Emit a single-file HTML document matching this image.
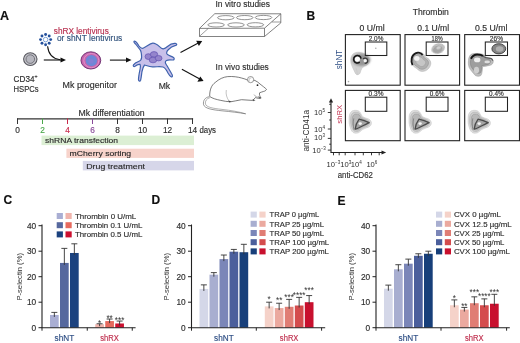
<!DOCTYPE html>
<html><head><meta charset="utf-8"><title>Figure</title>
<style>
html,body{margin:0;padding:0;background:#fff;}
body{width:520px;height:343px;overflow:hidden;}
svg{display:block;}
text{font-family:"Liberation Sans","DejaVu Sans",sans-serif;}
</style></head>
<body>
<svg width="520" height="343" viewBox="0 0 520 343">
<rect width="520" height="343" fill="#fff"/>
<defs><filter id="b20" x="-50%" y="-50%" width="200%" height="200%"><feGaussianBlur stdDeviation="2.0"/></filter><filter id="b14" x="-50%" y="-50%" width="200%" height="200%"><feGaussianBlur stdDeviation="1.4"/></filter><filter id="b09" x="-50%" y="-50%" width="200%" height="200%"><feGaussianBlur stdDeviation="0.9"/></filter><filter id="b05" x="-50%" y="-50%" width="200%" height="200%"><feGaussianBlur stdDeviation="0.5"/></filter><filter id="b03" x="-50%" y="-50%" width="200%" height="200%"><feGaussianBlur stdDeviation="0.3"/></filter></defs>
<text x="0" y="19.8" font-size="12.5" fill="#111" stroke="#111" stroke-width="0.15" font-weight="bold">A</text>
<text x="306.5" y="19.5" font-size="12" fill="#111" stroke="#111" stroke-width="0.15" font-weight="bold">B</text>
<text x="3.4" y="204.3" font-size="12" fill="#111" stroke="#111" stroke-width="0.15" font-weight="bold">C</text>
<text x="151.5" y="204.3" font-size="12" fill="#111" stroke="#111" stroke-width="0.15" font-weight="bold">D</text>
<text x="337.6" y="204.5" font-size="12" fill="#111" stroke="#111" stroke-width="0.15" font-weight="bold">E</text>
<text x="53.8" y="33.5" font-size="8.3" fill="#b8304f" stroke="#b8304f" stroke-width="0.15" textLength="55" lengthAdjust="spacingAndGlyphs">shRX lentivirus</text>
<text x="56.9" y="41.3" font-size="8.3" fill="#34557e" stroke="#34557e" stroke-width="0.15" textLength="65.4" lengthAdjust="spacingAndGlyphs">or shNT lentivirus</text>
<circle cx="45.6" cy="39.6" r="2.3" fill="#fff" stroke="#6f98d4" stroke-width="0.9"/>
<circle cx="50.70" cy="39.60" r="1.45" fill="#24509c"/>
<circle cx="49.21" cy="43.21" r="1.45" fill="#24509c"/>
<circle cx="45.60" cy="44.70" r="1.45" fill="#24509c"/>
<circle cx="41.99" cy="43.21" r="1.45" fill="#24509c"/>
<circle cx="40.50" cy="39.60" r="1.45" fill="#24509c"/>
<circle cx="41.99" cy="35.99" r="1.45" fill="#24509c"/>
<circle cx="45.60" cy="34.50" r="1.45" fill="#24509c"/>
<circle cx="49.21" cy="35.99" r="1.45" fill="#24509c"/>
<ellipse cx="30.3" cy="59.1" rx="6.7" ry="6.4" fill="#c4c4ca" stroke="#595960" stroke-width="1.1"/>
<circle cx="30.3" cy="59.1" r="4.3" fill="#b6b6be" stroke="#6c6c74" stroke-width="0.9"/>
<text x="13.6" y="81.8" font-size="8.2" fill="#2e2e2e" stroke="#2e2e2e" stroke-width="0.15">CD34<tspan font-size='5.2' dy='-3.4'>+</tspan></text>
<text x="13.6" y="91.8" font-size="8.2" fill="#2e2e2e" stroke="#2e2e2e" stroke-width="0.15" textLength="25.1" lengthAdjust="spacingAndGlyphs">HSPCs</text>
<line x1="43.8" y1="60" x2="61.5" y2="60" stroke="#111" stroke-width="1.1"/>
<path d="M66,60 L60.5,57.5 L60.5,62.5 Z" fill="#111"/>
<path d="M47.6,46.3 C48.3,53 51,58.6 60,59.7" fill="none" stroke="#111" stroke-width="1.1"/>
<ellipse cx="90.85" cy="60.4" rx="9.9" ry="8.6" fill="#c865ae" stroke="#66296a" stroke-width="0.9"/>
<ellipse cx="91.3" cy="60.6" rx="7.5" ry="7.1" fill="none" stroke="#eaa5d4" stroke-width="0.7"/>
<ellipse cx="91.4" cy="60.6" rx="5.8" ry="5.6" fill="#6e87d6"/>
<ellipse cx="91.0" cy="61.2" rx="2.6" ry="2.4" fill="#8a7ed4" opacity="0.7"/>
<text x="62.6" y="88.1" font-size="8.6" fill="#2e2e2e" stroke="#2e2e2e" stroke-width="0.15" textLength="54.3" lengthAdjust="spacingAndGlyphs">Mk progenitor</text>
<line x1="109.9" y1="60.1" x2="126.5" y2="60.1" stroke="#111" stroke-width="1.1"/>
<path d="M131.5,60.1 L126,57.6 L126,62.6 Z" fill="#111"/>
<path d="M134.2,41.2 C135.5,40.3 137.5,43.5 139,46 C140,47.5 141.5,48.8 143,48.3 C146.5,47 149.5,43.6 152.8,43.2 C156,43 158.5,46 161.5,48.3 C163.5,49.5 165.5,48.5 167.5,46.5 C169.5,44.7 172.5,43.2 175.2,43.4 C177.5,43.8 177,45.3 175,45.7 C172.5,46.3 170.5,47.5 168.5,49.5 C166.5,51.5 166,53.3 167.5,54.6 C169.5,55.8 172,56.5 173.5,57.5 C174.8,58.5 174.2,60.2 172.5,60 C170.5,59.8 168,59.6 166.5,60.5 C165,61.5 165,63 166.2,64.5 C167.8,67 169.8,70.5 171.5,73.5 C172.8,75.5 172.8,77 171.2,76.8 C169.8,76.5 169,74.8 168,73 C166.5,70 164.8,67.5 163,67 C160,66.3 156.5,67 152.5,66.8 C149.5,66.6 146.5,65.5 144.5,65 C143.2,66.5 142.6,69 142,71.5 C141.5,74.5 141.3,78 140.6,80.2 C140.1,81.5 138.6,81.3 138.5,79.8 C138.4,76.5 139.5,72 140.2,68.5 C140.5,67 140.6,65.5 140,64.4 C138.5,64 136.5,65 135,66.2 C133.8,67 132.8,66 133.5,64.8 C134.5,63.3 136.5,62.2 138.5,61.5 C140.5,60.8 141.6,59.5 141.6,57.5 C141.6,54.5 141.3,51.5 140.2,49.8 C139,48.5 137.5,46.5 136,44.5 C135,43.2 133.2,42.2 134.2,41.2 Z" fill="#c8c0ea" stroke="#3f62ad" stroke-width="1.2" stroke-linejoin="round"/>
<ellipse cx="148.4" cy="56.6" rx="3.4" ry="2.9" fill="#9484cc" stroke="#6252b0" stroke-width="0.7"/>
<ellipse cx="154.0" cy="54.4" rx="3.7" ry="2.8" fill="#9484cc" stroke="#6252b0" stroke-width="0.7"/>
<ellipse cx="153.0" cy="60.0" rx="3.8" ry="2.8" fill="#9484cc" stroke="#6252b0" stroke-width="0.7"/>
<ellipse cx="158.6" cy="58.2" rx="3.4" ry="2.7" fill="#9484cc" stroke="#6252b0" stroke-width="0.7"/>
<text x="158.7" y="89.0" font-size="8.6" fill="#2e2e2e" stroke="#2e2e2e" stroke-width="0.15">Mk</text>
<line x1="180.5" y1="52.4" x2="198.3" y2="43.1" stroke="#111" stroke-width="1.1"/>
<path d="M202.2,41.1 L196.2,40.8 L198.9,46.1 Z" fill="#111"/>
<line x1="181.9" y1="69.3" x2="199.8" y2="79.1" stroke="#111" stroke-width="1.1"/>
<path d="M203.6,81.1 L197.4,81.7 L200.3,76.5 Z" fill="#111"/>
<text x="215.5" y="7.0" font-size="8.4" fill="#2e2e2e" stroke="#2e2e2e" stroke-width="0.15" textLength="54.4" lengthAdjust="spacingAndGlyphs">In vitro studies</text>
<g fill="none" stroke="#5a5a5a" stroke-width="0.75" stroke-linejoin="round"><path d="M214.8,13.7 L280.8,13.8 L264.5,28.2 L199.5,28.4 Z"/><path d="M199.5,28.4 L199.5,36.5 L264.5,36.5 L264.5,28.2"/><path d="M280.8,13.8 L280.8,22.9 L264.5,36.5"/><path d="M271.9,22 L280.8,22" stroke-width="0.6"/><path d="M199.5,36.3 L208.3,28.4" stroke-width="0.6"/></g>
<ellipse cx="225.8" cy="17.7" rx="8.3" ry="2.1" fill="none" stroke="#5a5a5a" stroke-width="0.65"/>
<ellipse cx="244.7" cy="17.6" rx="8.3" ry="2.1" fill="none" stroke="#5a5a5a" stroke-width="0.65"/>
<ellipse cx="263.5" cy="17.5" rx="8.3" ry="2.1" fill="none" stroke="#5a5a5a" stroke-width="0.65"/>
<ellipse cx="216.1" cy="24.9" rx="8.3" ry="2.1" fill="none" stroke="#5a5a5a" stroke-width="0.65"/>
<ellipse cx="236.0" cy="24.9" rx="8.3" ry="2.1" fill="none" stroke="#5a5a5a" stroke-width="0.65"/>
<ellipse cx="255.4" cy="24.8" rx="8.3" ry="2.1" fill="none" stroke="#5a5a5a" stroke-width="0.65"/>
<text x="215.6" y="70.4" font-size="8.4" fill="#2e2e2e" stroke="#2e2e2e" stroke-width="0.15" textLength="53.2" lengthAdjust="spacingAndGlyphs">In vivo studies</text>
<path d="M209,96.8 C205,97.5 203,100.5 203.5,104.5 C204.5,108.5 212,109.8 222,110.8 C231,111.7 239,112.6 245.7,113.8" fill="none" stroke="#555" stroke-width="0.6"/>
<path d="M210,97.6 C206.5,98.6 205,101 205.4,104 C206.5,107.3 213,108.4 222,109.4 C231,110.4 239,111.8 245.7,113.8" fill="none" stroke="#666" stroke-width="0.5"/>
<path d="M209.7,96.5 C209.5,90 211.5,85 215.2,82.5 C219,79 223.5,77 227.7,76.6 C233,76.2 238,77 241.5,78 C244,78.6 246,79.3 247.8,80.2 C250,80.5 253,79.5 255,80.5 C257,81.5 258.5,82.5 260,84 C262.5,86 265,87.8 266.5,89.3 C266,90.5 264.8,91.2 263.7,91.4 C262,92 260.5,92.3 259.6,92.8 C259,94.5 260,96.5 261,98.2 C259.5,98.8 257,98 255.4,97.6 C254.5,98.5 253.5,99.8 252.6,100.4 C249,100.3 245,99.8 241.5,99.7 C237.5,100.2 234,101.5 230.5,101.8 C227,101.8 224,101 220.8,100.4 C216.5,99.5 212.5,98.5 209.7,96.5 Z" fill="#fff" stroke="#444" stroke-width="0.7" stroke-linejoin="round"/>
<circle cx="250.6" cy="79.6" r="3.1" fill="#fff" stroke="#555" stroke-width="0.6"/>
<path d="M249.2,81.5 C248.5,79.5 249.5,77.8 251.3,77.8" fill="none" stroke="#777" stroke-width="0.45"/>
<circle cx="257.5" cy="85.2" r="0.9" fill="#222"/>
<path d="M226.3,90 C225.5,94 227,98.5 229.1,101" fill="none" stroke="#888" stroke-width="0.5"/>
<path d="M254,94.5 C255,96.5 257,97.3 259,97" fill="none" stroke="#666" stroke-width="0.5"/>
<path d="M228.3,100.6 L231.5,101.4 L229.3,102.5 Z" fill="#444"/>
<path d="M252.6,99 L255.5,100.2 L253,101.2 Z" fill="#555"/>
<path d="M258.2,96.5 L261.5,97.3 L259.2,98.7 Z" fill="#666"/>
<line x1="17.0" y1="118.9" x2="193.1" y2="118.9" stroke="#333" stroke-width="1.1"/>
<line x1="17.5" y1="118.4" x2="17.5" y2="124.0" stroke="#333" stroke-width="1.0"/>
<text x="17.5" y="133.1" font-size="8.3" fill="#2e2e2e" stroke="#2e2e2e" stroke-width="0.15" text-anchor="middle">0</text>
<line x1="42.5" y1="118.4" x2="42.5" y2="124.0" stroke="#4aa84a" stroke-width="1.0"/>
<text x="42.5" y="133.1" font-size="8.3" fill="#4aa84a" stroke="#4aa84a" stroke-width="0.15" text-anchor="middle">2</text>
<line x1="67.5" y1="118.4" x2="67.5" y2="124.0" stroke="#c8284a" stroke-width="1.0"/>
<text x="67.5" y="133.1" font-size="8.3" fill="#c8284a" stroke="#c8284a" stroke-width="0.15" text-anchor="middle">4</text>
<line x1="92.5" y1="118.4" x2="92.5" y2="124.0" stroke="#8a4a9a" stroke-width="1.0"/>
<text x="92.5" y="133.1" font-size="8.3" fill="#8a4a9a" stroke="#8a4a9a" stroke-width="0.15" text-anchor="middle">6</text>
<line x1="117.5" y1="118.4" x2="117.5" y2="124.0" stroke="#333" stroke-width="1.0"/>
<text x="117.5" y="133.1" font-size="8.3" fill="#2e2e2e" stroke="#2e2e2e" stroke-width="0.15" text-anchor="middle">8</text>
<line x1="142.5" y1="118.4" x2="142.5" y2="124.0" stroke="#333" stroke-width="1.0"/>
<text x="142.5" y="133.1" font-size="8.3" fill="#2e2e2e" stroke="#2e2e2e" stroke-width="0.15" text-anchor="middle">10</text>
<line x1="167.5" y1="118.4" x2="167.5" y2="124.0" stroke="#333" stroke-width="1.0"/>
<text x="167.5" y="133.1" font-size="8.3" fill="#2e2e2e" stroke="#2e2e2e" stroke-width="0.15" text-anchor="middle">12</text>
<line x1="192.5" y1="118.4" x2="192.5" y2="124.0" stroke="#333" stroke-width="1.0"/>
<text x="192.5" y="133.1" font-size="8.3" fill="#2e2e2e" stroke="#2e2e2e" stroke-width="0.15" text-anchor="middle">14</text>
<text x="199.5" y="133.1" font-size="8.3" fill="#2e2e2e" stroke="#2e2e2e" stroke-width="0.15" textLength="16.5" lengthAdjust="spacingAndGlyphs">days</text>
<text x="78.5" y="115.9" font-size="8.3" fill="#2e2e2e" stroke="#2e2e2e" stroke-width="0.15" textLength="66.2" lengthAdjust="spacingAndGlyphs">Mk differentiation</text>
<rect x="41.5" y="135.6" width="152.5" height="9.5" fill="#dcefd4"/>
<text x="45.1" y="143.4" font-size="8.1" fill="#2a2a2a" stroke="#2a2a2a" stroke-width="0.15" textLength="72.9" lengthAdjust="spacingAndGlyphs">shRNA transfection</text>
<rect x="66.4" y="148.7" width="127.6" height="9.2" fill="#f7d3cb"/>
<text x="69.5" y="156.2" font-size="8.1" fill="#2a2a2a" stroke="#2a2a2a" stroke-width="0.15" textLength="61.7" lengthAdjust="spacingAndGlyphs">mCherry sorting</text>
<rect x="82.8" y="160.9" width="111.2" height="9.5" fill="#d6d6e9"/>
<text x="86.2" y="168.5" font-size="8.1" fill="#2a2a2a" stroke="#2a2a2a" stroke-width="0.15" textLength="58.8" lengthAdjust="spacingAndGlyphs">Drug treatment</text>
<text x="412.7" y="15.0" font-size="8.3" fill="#2e2e2e" stroke="#2e2e2e" stroke-width="0.15" textLength="36.2" lengthAdjust="spacingAndGlyphs">Thrombin</text>
<text x="359.6" y="30.8" font-size="8.3" fill="#2e2e2e" stroke="#2e2e2e" stroke-width="0.15" textLength="25.0" lengthAdjust="spacingAndGlyphs">0 U/ml</text>
<text x="417.25" y="30.8" font-size="8.3" fill="#2e2e2e" stroke="#2e2e2e" stroke-width="0.15" textLength="31.9" lengthAdjust="spacingAndGlyphs">0.1 U/ml</text>
<text x="475.05" y="30.8" font-size="8.3" fill="#2e2e2e" stroke="#2e2e2e" stroke-width="0.15" textLength="32.3" lengthAdjust="spacingAndGlyphs">0.5 U/ml</text>
<rect x="345.4" y="34.6" width="54.8" height="50.6" fill="#fff" stroke="#222" stroke-width="1.1"/>
<g transform="translate(345.4,34.6)"><path d="M6,22 C7,18.5 11,17.2 14.5,17.8 C18.5,18.5 22.5,21 23.8,24.5 C24.7,27.5 22.7,30.5 19.2,31.5 C16.7,32.5 15.7,35 14.7,38.5 C13.7,40.5 11,40.5 10,38.8 C8.5,35.5 6.5,32 5.6,28.5 C5.2,26 5.3,23.8 6,22 Z" fill="#d2d2d2" stroke="#bdbdbd" stroke-width="0.5" filter="url(#b05)"/><path d="M10.5,33 C11.5,36 12,38.5 11.8,40.5" fill="none" stroke="#c4c4c4" stroke-width="0.6" filter="url(#b03)"/><ellipse cx="15.8" cy="25.2" rx="9.2" ry="6.2" fill="#969696" filter="url(#b09)"/><circle cx="12" cy="24.5" r="2.6" fill="#fdfdfd" filter="url(#b03)"/><path d="M14.3,27.6 A3.75,3.75 0 1 1 15.7,24.0" fill="none" stroke="#141414" stroke-width="1.5" filter="url(#b03)"/><circle cx="19.8" cy="26.1" r="1.6" fill="#f2f2f2" filter="url(#b03)"/><path d="M17.6,24.3 C18.8,22.9 21.8,23.2 22.3,25.4 C22.7,27.6 21.2,28.8 19.3,28.7" fill="none" stroke="#3a3a3a" stroke-width="1.2" filter="url(#b03)"/><circle cx="3.1" cy="47" r="0.8" fill="#aaa"/><circle cx="30.4" cy="13.6" r="0.8" fill="#aaa"/></g>
<rect x="365.3" y="42.0" width="21.50" height="13.50" fill="none" stroke="#222" stroke-width="1.05"/>
<text x="376.05" y="40.7" font-size="6.4" fill="#333" stroke="#333" stroke-width="0.15" text-anchor="middle" textLength="14.6" lengthAdjust="spacingAndGlyphs">2.0%</text>
<rect x="405.0" y="34.6" width="54.6" height="50.6" fill="#fff" stroke="#222" stroke-width="1.1"/>
<g transform="translate(405.0,34.6)"><g filter="url(#b05)"><path d="M6.3,27.5 C5.6,22 8.5,18 13.5,17.6 C17,17.4 19.5,19.5 20.5,22.5 C23,23.5 25.8,25.5 25.8,28.5 C25.8,32 23,35.5 19.7,36.5 C16.5,37.3 13.5,36.5 12,34 C9,32.5 6.8,30.5 6.3,27.5 Z" transform="translate(15.5,27) scale(1.0) translate(-15.5,-27)" fill="#cdcdcd" stroke="#acacac" stroke-width="0.50"/><path d="M6.3,27.5 C5.6,22 8.5,18 13.5,17.6 C17,17.4 19.5,19.5 20.5,22.5 C23,23.5 25.8,25.5 25.8,28.5 C25.8,32 23,35.5 19.7,36.5 C16.5,37.3 13.5,36.5 12,34 C9,32.5 6.8,30.5 6.3,27.5 Z" transform="translate(15.5,27) scale(0.78) translate(-15.5,-27)" fill="#b0b0b0" stroke="#8c8c8c" stroke-width="0.64"/><path d="M6.3,27.5 C5.6,22 8.5,18 13.5,17.6 C17,17.4 19.5,19.5 20.5,22.5 C23,23.5 25.8,25.5 25.8,28.5 C25.8,32 23,35.5 19.7,36.5 C16.5,37.3 13.5,36.5 12,34 C9,32.5 6.8,30.5 6.3,27.5 Z" transform="translate(15.5,27) scale(0.5) translate(-15.5,-27)" fill="#c6c6c6" stroke="#9a9a9a" stroke-width="0.90"/></g><ellipse cx="11.8" cy="23.8" rx="2.7" ry="2.4" fill="#f4f4f4" filter="url(#b05)"/><path d="M7.6,30.5 C5.6,26 6.4,20.6 10.5,18.7 C13,17.6 16.2,18.2 17.6,20.4" fill="none" stroke="#1e1e1e" stroke-width="1.9" filter="url(#b03)"/><g filter="url(#b05)" transform="rotate(-18 33.1 14)"><ellipse cx="33.1" cy="14" rx="6.4" ry="4.6" fill="#c4c4c4" stroke="#939393" stroke-width="0.6"/><ellipse cx="32.6" cy="14.6" rx="4.4" ry="3.0" fill="#a6a6a6" stroke="#8a8a8a" stroke-width="0.4"/><ellipse cx="33.8" cy="13.4" rx="2.2" ry="1.4" fill="#d2d2d2"/></g></g>
<rect x="426.2" y="42.0" width="21.80" height="13.50" fill="none" stroke="#222" stroke-width="1.05"/>
<text x="437.1" y="40.7" font-size="6.4" fill="#333" stroke="#333" stroke-width="0.15" text-anchor="middle" textLength="11.1" lengthAdjust="spacingAndGlyphs">18%</text>
<rect x="464.7" y="34.6" width="54.8" height="50.6" fill="#fff" stroke="#222" stroke-width="1.1"/>
<g transform="translate(464.7,34.6)"><g filter="url(#b05)"><path d="M3.8,25.9 C4,21.5 6,19.2 9,19 C12,18.7 15.5,18.7 17.8,19.6 C20,20.5 21,22 22.2,23.1 C24.5,23.3 28.3,24 28.6,25.9 C28.9,28.5 27.3,30.3 25.6,30.6 C23,31.5 20,31.7 17.9,32 C17.6,35 17.6,39 16.2,40.9 C14.6,42.1 12,41.8 10.6,40.9 C8.3,38.2 5.8,35.6 4.5,33 C3.6,30.5 3.5,28 3.8,25.9 Z" transform="translate(14,27) scale(1.0) translate(-14,-27)" fill="#bdbdbd" stroke="#9a9a9a" stroke-width="0.50"/><path d="M3.8,25.9 C4,21.5 6,19.2 9,19 C12,18.7 15.5,18.7 17.8,19.6 C20,20.5 21,22 22.2,23.1 C24.5,23.3 28.3,24 28.6,25.9 C28.9,28.5 27.3,30.3 25.6,30.6 C23,31.5 20,31.7 17.9,32 C17.6,35 17.6,39 16.2,40.9 C14.6,42.1 12,41.8 10.6,40.9 C8.3,38.2 5.8,35.6 4.5,33 C3.6,30.5 3.5,28 3.8,25.9 Z" transform="translate(14,27) scale(0.8) translate(-14,-27)" fill="#9e9e9e" stroke="#7a7a7a" stroke-width="0.62"/></g><ellipse cx="12.5" cy="25.3" rx="3.2" ry="2.3" fill="#f0f0f0" filter="url(#b05)"/><ellipse cx="22.5" cy="27.3" rx="2.8" ry="1.4" fill="#dedede" filter="url(#b05)"/><ellipse cx="11.8" cy="35.5" rx="2.6" ry="3.4" fill="#cfcfcf" filter="url(#b05)"/><path d="M18,21.2 C19.5,22.6 21.5,23.4 24,23.5 C26,23.6 27.8,24.6 28,26" fill="none" stroke="#5a5a5a" stroke-width="1.1" filter="url(#b03)"/><path d="M6.2,24.2 C7.8,21 10.5,19.9 12.5,19.9 C15,19.9 17,20.3 18.2,21.4" fill="none" stroke="#141414" stroke-width="2.0" filter="url(#b03)"/><g filter="url(#b03)"><ellipse cx="34.1" cy="14.2" rx="6.9" ry="5.1" fill="#868686" stroke="#3a3a3a" stroke-width="0.9"/><ellipse cx="34.9" cy="14.4" rx="3.8" ry="2.7" fill="#b0b0b0" filter="url(#b05)"/></g></g>
<rect x="485.3" y="42.0" width="22.20" height="13.50" fill="none" stroke="#222" stroke-width="1.05"/>
<text x="496.4" y="40.7" font-size="6.4" fill="#333" stroke="#333" stroke-width="0.15" text-anchor="middle" textLength="13.2" lengthAdjust="spacingAndGlyphs">26%</text>
<rect x="345.4" y="90.4" width="54.8" height="50.3" fill="#fff" stroke="#222" stroke-width="1.1"/>
<g transform="translate(345.4,90.4)"><g filter="url(#b05)"><path d="M4.1,24.3 C5,21.5 6.8,20 8.5,20 C10.5,19.8 12.5,20 13.7,20.9 C15.5,22.5 16,24.8 17.2,26.1 C19,27.5 21.5,27.8 23.4,28.7 C25.3,29.8 26.2,31.3 26,33.1 C25.8,34.8 24.8,35.9 23.4,36.6 C21.5,37.6 19,38 17.2,39.2 C15.5,40.4 14,42.3 12,42.7 C10.2,43 8.7,42.8 7.6,41.9 C6.2,40.8 5.5,39.2 5,37.5 C4.2,35 3.6,32.8 3.7,30.5 C3.7,28.2 3.6,26 4.1,24.3 Z" transform="translate(13.5,32) scale(1.0) translate(-13.5,-32)" fill="#dddddd" stroke="#c2c2c2" stroke-width="0.50"/><path d="M4.1,24.3 C5,21.5 6.8,20 8.5,20 C10.5,19.8 12.5,20 13.7,20.9 C15.5,22.5 16,24.8 17.2,26.1 C19,27.5 21.5,27.8 23.4,28.7 C25.3,29.8 26.2,31.3 26,33.1 C25.8,34.8 24.8,35.9 23.4,36.6 C21.5,37.6 19,38 17.2,39.2 C15.5,40.4 14,42.3 12,42.7 C10.2,43 8.7,42.8 7.6,41.9 C6.2,40.8 5.5,39.2 5,37.5 C4.2,35 3.6,32.8 3.7,30.5 C3.7,28.2 3.6,26 4.1,24.3 Z" transform="translate(13.5,32) scale(0.84) translate(-13.5,-32)" fill="#cbcbcb" stroke="#acacac" stroke-width="0.60"/><path d="M4.1,24.3 C5,21.5 6.8,20 8.5,20 C10.5,19.8 12.5,20 13.7,20.9 C15.5,22.5 16,24.8 17.2,26.1 C19,27.5 21.5,27.8 23.4,28.7 C25.3,29.8 26.2,31.3 26,33.1 C25.8,34.8 24.8,35.9 23.4,36.6 C21.5,37.6 19,38 17.2,39.2 C15.5,40.4 14,42.3 12,42.7 C10.2,43 8.7,42.8 7.6,41.9 C6.2,40.8 5.5,39.2 5,37.5 C4.2,35 3.6,32.8 3.7,30.5 C3.7,28.2 3.6,26 4.1,24.3 Z" transform="translate(13.5,32) scale(0.68) translate(-13.5,-32)" fill="#b8b8b8" stroke="#939393" stroke-width="0.74"/></g><path d="M13.7,28.7 C17,29.6 20.5,30.8 23.8,32.2 C20,34.2 16,36 13,37.6 C11.8,38.2 10.8,38.6 9.8,38.8 C10.2,35 11.5,31.5 13.7,28.7 Z" fill="#a4a4a4" stroke="#4a4a4a" stroke-width="1.3" stroke-linejoin="round" filter="url(#b05)"/><ellipse cx="14.8" cy="33.2" rx="1.7" ry="1.3" fill="#f4f4f4" filter="url(#b05)"/><path d="M8.4,28 C7.6,31.5 7.6,35.5 8.6,39.5" fill="none" stroke="#7a7a7a" stroke-width="0.8" filter="url(#b03)"/></g>
<rect x="365.3" y="97.2" width="21.50" height="14.10" fill="none" stroke="#222" stroke-width="1.05"/>
<text x="376.05" y="95.9" font-size="6.4" fill="#333" stroke="#333" stroke-width="0.15" text-anchor="middle" textLength="14.9" lengthAdjust="spacingAndGlyphs">0.3%</text>
<rect x="405.0" y="90.4" width="54.6" height="50.3" fill="#fff" stroke="#222" stroke-width="1.1"/>
<g transform="translate(405.3,90.4)"><g filter="url(#b05)"><path d="M4.1,24.3 C5,21.5 6.8,20 8.5,20 C10.5,19.8 12.5,20 13.7,20.9 C15.5,22.5 16,24.8 17.2,26.1 C19,27.5 21.5,27.8 23.4,28.7 C25.3,29.8 26.2,31.3 26,33.1 C25.8,34.8 24.8,35.9 23.4,36.6 C21.5,37.6 19,38 17.2,39.2 C15.5,40.4 14,42.3 12,42.7 C10.2,43 8.7,42.8 7.6,41.9 C6.2,40.8 5.5,39.2 5,37.5 C4.2,35 3.6,32.8 3.7,30.5 C3.7,28.2 3.6,26 4.1,24.3 Z" transform="translate(13.5,32) scale(1.0) translate(-13.5,-32)" fill="#dddddd" stroke="#c2c2c2" stroke-width="0.50"/><path d="M4.1,24.3 C5,21.5 6.8,20 8.5,20 C10.5,19.8 12.5,20 13.7,20.9 C15.5,22.5 16,24.8 17.2,26.1 C19,27.5 21.5,27.8 23.4,28.7 C25.3,29.8 26.2,31.3 26,33.1 C25.8,34.8 24.8,35.9 23.4,36.6 C21.5,37.6 19,38 17.2,39.2 C15.5,40.4 14,42.3 12,42.7 C10.2,43 8.7,42.8 7.6,41.9 C6.2,40.8 5.5,39.2 5,37.5 C4.2,35 3.6,32.8 3.7,30.5 C3.7,28.2 3.6,26 4.1,24.3 Z" transform="translate(13.5,32) scale(0.84) translate(-13.5,-32)" fill="#cbcbcb" stroke="#acacac" stroke-width="0.60"/><path d="M4.1,24.3 C5,21.5 6.8,20 8.5,20 C10.5,19.8 12.5,20 13.7,20.9 C15.5,22.5 16,24.8 17.2,26.1 C19,27.5 21.5,27.8 23.4,28.7 C25.3,29.8 26.2,31.3 26,33.1 C25.8,34.8 24.8,35.9 23.4,36.6 C21.5,37.6 19,38 17.2,39.2 C15.5,40.4 14,42.3 12,42.7 C10.2,43 8.7,42.8 7.6,41.9 C6.2,40.8 5.5,39.2 5,37.5 C4.2,35 3.6,32.8 3.7,30.5 C3.7,28.2 3.6,26 4.1,24.3 Z" transform="translate(13.5,32) scale(0.68) translate(-13.5,-32)" fill="#b8b8b8" stroke="#939393" stroke-width="0.74"/></g><path d="M13.7,28.7 C17,29.6 20.5,30.8 23.8,32.2 C20,34.2 16,36 13,37.6 C11.8,38.2 10.8,38.6 9.8,38.8 C10.2,35 11.5,31.5 13.7,28.7 Z" fill="#a4a4a4" stroke="#4a4a4a" stroke-width="1.3" stroke-linejoin="round" filter="url(#b05)"/><ellipse cx="14.8" cy="33.2" rx="1.7" ry="1.3" fill="#f4f4f4" filter="url(#b05)"/><path d="M8.4,28 C7.6,31.5 7.6,35.5 8.6,39.5" fill="none" stroke="#7a7a7a" stroke-width="0.8" filter="url(#b03)"/></g>
<rect x="426.2" y="97.2" width="21.80" height="14.10" fill="none" stroke="#222" stroke-width="1.05"/>
<text x="437.1" y="95.9" font-size="6.4" fill="#333" stroke="#333" stroke-width="0.15" text-anchor="middle" textLength="14.6" lengthAdjust="spacingAndGlyphs">0.6%</text>
<rect x="464.7" y="90.4" width="54.8" height="50.3" fill="#fff" stroke="#222" stroke-width="1.1"/>
<g transform="translate(464.4,90.4)"><g filter="url(#b05)"><path d="M4.1,24.3 C5,21.5 6.8,20 8.5,20 C10.5,19.8 12.5,20 13.7,20.9 C15.5,22.5 16,24.8 17.2,26.1 C19,27.5 21.5,27.8 23.4,28.7 C25.3,29.8 26.2,31.3 26,33.1 C25.8,34.8 24.8,35.9 23.4,36.6 C21.5,37.6 19,38 17.2,39.2 C15.5,40.4 14,42.3 12,42.7 C10.2,43 8.7,42.8 7.6,41.9 C6.2,40.8 5.5,39.2 5,37.5 C4.2,35 3.6,32.8 3.7,30.5 C3.7,28.2 3.6,26 4.1,24.3 Z" transform="translate(13.5,32) scale(1.0) translate(-13.5,-32)" fill="#dddddd" stroke="#c2c2c2" stroke-width="0.50"/><path d="M4.1,24.3 C5,21.5 6.8,20 8.5,20 C10.5,19.8 12.5,20 13.7,20.9 C15.5,22.5 16,24.8 17.2,26.1 C19,27.5 21.5,27.8 23.4,28.7 C25.3,29.8 26.2,31.3 26,33.1 C25.8,34.8 24.8,35.9 23.4,36.6 C21.5,37.6 19,38 17.2,39.2 C15.5,40.4 14,42.3 12,42.7 C10.2,43 8.7,42.8 7.6,41.9 C6.2,40.8 5.5,39.2 5,37.5 C4.2,35 3.6,32.8 3.7,30.5 C3.7,28.2 3.6,26 4.1,24.3 Z" transform="translate(13.5,32) scale(0.84) translate(-13.5,-32)" fill="#cbcbcb" stroke="#acacac" stroke-width="0.60"/><path d="M4.1,24.3 C5,21.5 6.8,20 8.5,20 C10.5,19.8 12.5,20 13.7,20.9 C15.5,22.5 16,24.8 17.2,26.1 C19,27.5 21.5,27.8 23.4,28.7 C25.3,29.8 26.2,31.3 26,33.1 C25.8,34.8 24.8,35.9 23.4,36.6 C21.5,37.6 19,38 17.2,39.2 C15.5,40.4 14,42.3 12,42.7 C10.2,43 8.7,42.8 7.6,41.9 C6.2,40.8 5.5,39.2 5,37.5 C4.2,35 3.6,32.8 3.7,30.5 C3.7,28.2 3.6,26 4.1,24.3 Z" transform="translate(13.5,32) scale(0.68) translate(-13.5,-32)" fill="#b8b8b8" stroke="#939393" stroke-width="0.74"/></g><path d="M13.7,28.7 C17,29.6 20.5,30.8 23.8,32.2 C20,34.2 16,36 13,37.6 C11.8,38.2 10.8,38.6 9.8,38.8 C10.2,35 11.5,31.5 13.7,28.7 Z" fill="#a4a4a4" stroke="#4a4a4a" stroke-width="1.3" stroke-linejoin="round" filter="url(#b05)"/><ellipse cx="14.8" cy="33.2" rx="1.7" ry="1.3" fill="#f4f4f4" filter="url(#b05)"/><path d="M8.4,28 C7.6,31.5 7.6,35.5 8.6,39.5" fill="none" stroke="#7a7a7a" stroke-width="0.8" filter="url(#b03)"/></g>
<rect x="485.3" y="97.2" width="22.20" height="14.10" fill="none" stroke="#222" stroke-width="1.05"/>
<text x="496.4" y="95.9" font-size="6.4" fill="#333" stroke="#333" stroke-width="0.15" text-anchor="middle" textLength="14.6" lengthAdjust="spacingAndGlyphs">0.4%</text>
<text transform="translate(342.2,69.2) rotate(-90)" font-size="8.2" fill="#2f4f85" textLength="19.4" lengthAdjust="spacingAndGlyphs">shNT</text>
<text transform="translate(342.0,123.7) rotate(-90)" font-size="8.0" fill="#c0304f" textLength="18.8" lengthAdjust="spacingAndGlyphs">shRX</text>
<line x1="331.0" y1="101.5" x2="331.0" y2="152.5" stroke="#222" stroke-width="1.1"/>
<path d="M331,98.3 L328.9,102.6 L333.1,102.6 Z" fill="#222"/>
<line x1="330.5" y1="152.5" x2="382.5" y2="152.5" stroke="#222" stroke-width="1.1"/>
<path d="M386.2,152.5 L381.5,150.4 L381.5,154.6 Z" fill="#222"/>
<line x1="329.2" y1="104.3" x2="331" y2="104.3" stroke="#222" stroke-width="0.9"/>
<line x1="327.8" y1="112.5" x2="331" y2="112.5" stroke="#222" stroke-width="0.9"/>
<line x1="329.2" y1="120.0" x2="331" y2="120.0" stroke="#222" stroke-width="0.9"/>
<line x1="327.8" y1="129.0" x2="331" y2="129.0" stroke="#222" stroke-width="0.9"/>
<line x1="327.8" y1="138.4" x2="331" y2="138.4" stroke="#222" stroke-width="0.9"/>
<line x1="329.2" y1="144.2" x2="331" y2="144.2" stroke="#222" stroke-width="0.9"/>
<line x1="327.8" y1="150.1" x2="331" y2="150.1" stroke="#222" stroke-width="0.9"/>
<line x1="333.5" y1="152.5" x2="333.5" y2="155.3" stroke="#222" stroke-width="0.9"/>
<line x1="339.2" y1="152.5" x2="339.2" y2="155.3" stroke="#222" stroke-width="0.9"/>
<line x1="345.2" y1="152.5" x2="345.2" y2="155.3" stroke="#222" stroke-width="0.9"/>
<line x1="355.0" y1="152.5" x2="355.0" y2="155.3" stroke="#222" stroke-width="0.9"/>
<line x1="363.3" y1="152.5" x2="363.3" y2="155.3" stroke="#222" stroke-width="0.9"/>
<line x1="371.5" y1="152.5" x2="371.5" y2="155.3" stroke="#222" stroke-width="0.9"/>
<line x1="379.2" y1="152.5" x2="379.2" y2="155.3" stroke="#222" stroke-width="0.9"/>
<text x="314.0" y="115.0" font-size="7.6" fill="#2e2e2e">10<tspan font-size="4.56" dy="-3.0">5</tspan></text>
<text x="314.0" y="131.6" font-size="7.6" fill="#2e2e2e">10<tspan font-size="4.56" dy="-3.0">4</tspan></text>
<text x="314.0" y="140.2" font-size="7.6" fill="#2e2e2e">10<tspan font-size="4.56" dy="-3.0">3</tspan></text>
<text x="312.2" y="153.0" font-size="7.6" fill="#2e2e2e">10<tspan font-size="4.56" dy="-3.0">−3</tspan></text>
<text x="326.6" y="166.5" font-size="7.6" fill="#2e2e2e">10<tspan font-size="4.56" dy="-3.0">−3</tspan></text>
<text x="340.2" y="166.5" font-size="7.6" fill="#2e2e2e">10<tspan font-size="4.56" dy="-3.0">3</tspan></text>
<text x="350.8" y="166.5" font-size="7.6" fill="#2e2e2e">10<tspan font-size="4.56" dy="-3.0">4</tspan></text>
<text x="366.4" y="166.5" font-size="7.6" fill="#2e2e2e">10<tspan font-size="4.56" dy="-3.0">6</tspan></text>
<text x="337.8" y="177.7" font-size="8.7" fill="#2e2e2e" stroke="#2e2e2e" stroke-width="0.15" textLength="35.0" lengthAdjust="spacingAndGlyphs">anti-CD62</text>
<text transform="translate(309.3,151.5) rotate(-90)" font-size="8.7" fill="#2e2e2e" textLength="41.6" lengthAdjust="spacingAndGlyphs">anti-CD41a</text>
<rect x="50.00" y="314.95" width="8.7" height="12.75" fill="#a9aed3"/>
<path d="M54.35,316.95 V312.40 M51.35,312.40 H57.35" stroke="#333" stroke-width="0.9" fill="none"/>
<rect x="60.00" y="262.93" width="8.7" height="64.77" fill="#56689e"/>
<path d="M64.35,264.93 V248.39 M61.35,248.39 H67.35" stroke="#333" stroke-width="0.9" fill="none"/>
<rect x="70.00" y="252.98" width="8.7" height="74.72" fill="#1b427f"/>
<path d="M74.35,254.98 V243.81 M71.35,243.81 H77.35" stroke="#333" stroke-width="0.9" fill="none"/>
<rect x="95.25" y="324.21" width="8.7" height="3.49" fill="#f0b4ac"/>
<path d="M99.60,326.21 V323.75 M96.60,323.75 H102.60" stroke="#333" stroke-width="0.9" fill="none"/>
<text x="99.60" y="326.10" font-size="8.2" fill="#333" text-anchor="middle">*</text>
<rect x="105.25" y="321.07" width="8.7" height="6.63" fill="#e66a5e"/>
<path d="M109.60,323.07 V319.03 M106.60,319.03 H112.60" stroke="#333" stroke-width="0.9" fill="none"/>
<text x="109.60" y="320.90" font-size="8.2" fill="#333" text-anchor="middle">**</text>
<rect x="115.25" y="323.49" width="8.7" height="4.21" fill="#cc1030"/>
<path d="M119.60,325.49 V321.07 M116.60,321.07 H122.60" stroke="#333" stroke-width="0.9" fill="none"/>
<text x="119.60" y="323.30" font-size="8.2" fill="#333" text-anchor="middle">***</text>
<path d="M42.0,224.5 V327.7 H135.6" stroke="#222" stroke-width="1.1" fill="none"/>
<line x1="38.5" y1="327.7" x2="42.0" y2="327.7" stroke="#222" stroke-width="1.0"/>
<text x="36.2" y="330.7" font-size="8.3" fill="#2e2e2e" stroke="#2e2e2e" stroke-width="0.15" text-anchor="end">0</text>
<line x1="38.5" y1="302.2" x2="42.0" y2="302.2" stroke="#222" stroke-width="1.0"/>
<text x="36.2" y="305.2" font-size="8.3" fill="#2e2e2e" stroke="#2e2e2e" stroke-width="0.15" text-anchor="end">10</text>
<line x1="38.5" y1="276.7" x2="42.0" y2="276.7" stroke="#222" stroke-width="1.0"/>
<text x="36.2" y="279.7" font-size="8.3" fill="#2e2e2e" stroke="#2e2e2e" stroke-width="0.15" text-anchor="end">20</text>
<line x1="38.5" y1="251.2" x2="42.0" y2="251.2" stroke="#222" stroke-width="1.0"/>
<text x="36.2" y="254.2" font-size="8.3" fill="#2e2e2e" stroke="#2e2e2e" stroke-width="0.15" text-anchor="end">30</text>
<line x1="38.5" y1="225.7" x2="42.0" y2="225.7" stroke="#222" stroke-width="1.0"/>
<text x="36.2" y="228.7" font-size="8.3" fill="#2e2e2e" stroke="#2e2e2e" stroke-width="0.15" text-anchor="end">40</text>
<line x1="42.0" y1="327.7" x2="42.0" y2="330.7" stroke="#222" stroke-width="1.0"/>
<line x1="87.25" y1="327.7" x2="87.25" y2="330.7" stroke="#222" stroke-width="1.0"/>
<line x1="132.25" y1="327.7" x2="132.25" y2="330.7" stroke="#222" stroke-width="1.0"/>
<text x="64.35" y="341.3" font-size="8.4" fill="#2f4f85" stroke="#2f4f85" stroke-width="0.15" text-anchor="middle" textLength="19.6" lengthAdjust="spacingAndGlyphs">shNT</text>
<text x="109.60" y="341.3" font-size="8.4" fill="#c0304f" stroke="#c0304f" stroke-width="0.15" text-anchor="middle" textLength="18.6" lengthAdjust="spacingAndGlyphs">shRX</text>
<text transform="translate(22.4,276.8) rotate(-90)" font-size="8.0" fill="#2e2e2e" text-anchor="middle" textLength="47.6" lengthAdjust="spacingAndGlyphs">P-selectin (%)</text>
<rect x="56.7" y="213.00" width="6.2" height="6.0" fill="#a9aed3"/>
<rect x="65.5" y="213.00" width="6.2" height="6.0" fill="#f0b4ac"/>
<text x="74.9" y="218.70" font-size="7.8" fill="#2e2e2e" stroke="#2e2e2e" stroke-width="0.15" textLength="61.4" lengthAdjust="spacingAndGlyphs">Thrombin 0 U/mL</text>
<rect x="56.7" y="222.20" width="6.2" height="6.0" fill="#56689e"/>
<rect x="65.5" y="222.20" width="6.2" height="6.0" fill="#e66a5e"/>
<text x="74.9" y="227.90" font-size="7.8" fill="#2e2e2e" stroke="#2e2e2e" stroke-width="0.15" textLength="67.5" lengthAdjust="spacingAndGlyphs">Thrombin 0.1 U/mL</text>
<rect x="56.7" y="231.40" width="6.2" height="6.0" fill="#1b427f"/>
<rect x="65.5" y="231.40" width="6.2" height="6.0" fill="#cc1030"/>
<text x="74.9" y="237.10" font-size="7.8" fill="#2e2e2e" stroke="#2e2e2e" stroke-width="0.15" textLength="67.5" lengthAdjust="spacingAndGlyphs">Thrombin 0.5 U/mL</text>
<rect x="199.50" y="288.94" width="8.7" height="38.76" fill="#d4d7e8"/>
<path d="M203.85,290.94 V284.86 M200.85,284.86 H206.85" stroke="#333" stroke-width="0.9" fill="none"/>
<rect x="209.50" y="274.66" width="8.7" height="53.04" fill="#a8aed0"/>
<path d="M213.85,276.66 V272.62 M210.85,272.62 H216.85" stroke="#333" stroke-width="0.9" fill="none"/>
<rect x="219.50" y="259.11" width="8.7" height="68.59" fill="#7b86b8"/>
<path d="M223.85,261.11 V255.02 M220.85,255.02 H226.85" stroke="#333" stroke-width="0.9" fill="none"/>
<rect x="229.50" y="251.71" width="8.7" height="75.99" fill="#4b5f9c"/>
<path d="M233.85,253.71 V249.41 M230.85,249.41 H236.85" stroke="#333" stroke-width="0.9" fill="none"/>
<rect x="239.50" y="252.22" width="8.7" height="75.48" fill="#173f7a"/>
<path d="M243.85,254.22 V244.31 M240.85,244.31 H246.85" stroke="#333" stroke-width="0.9" fill="none"/>
<rect x="264.80" y="306.41" width="8.7" height="21.29" fill="#f5d2c9"/>
<path d="M269.15,308.41 V302.20 M266.15,302.20 H272.15" stroke="#333" stroke-width="0.9" fill="none"/>
<text x="269.15" y="302.30" font-size="8.2" fill="#333" text-anchor="middle">*</text>
<rect x="274.80" y="308.06" width="8.7" height="19.63" fill="#eba99f"/>
<path d="M279.15,310.06 V303.22 M276.15,303.22 H282.15" stroke="#333" stroke-width="0.9" fill="none"/>
<text x="279.15" y="302.80" font-size="8.2" fill="#333" text-anchor="middle">**</text>
<rect x="284.80" y="306.79" width="8.7" height="20.91" fill="#e07d74"/>
<path d="M289.15,308.79 V299.39 M286.15,299.39 H292.15" stroke="#333" stroke-width="0.9" fill="none"/>
<text x="289.15" y="300.10" font-size="8.2" fill="#333" text-anchor="middle">***</text>
<rect x="294.80" y="305.51" width="8.7" height="22.19" fill="#d44c4d"/>
<path d="M299.15,307.51 V297.36 M296.15,297.36 H302.15" stroke="#333" stroke-width="0.9" fill="none"/>
<text x="299.15" y="297.70" font-size="8.2" fill="#333" text-anchor="middle">****</text>
<rect x="304.80" y="302.20" width="8.7" height="25.50" fill="#c8102e"/>
<path d="M309.15,304.20 V295.57 M306.15,295.57 H312.15" stroke="#333" stroke-width="0.9" fill="none"/>
<text x="309.15" y="292.80" font-size="8.2" fill="#333" text-anchor="middle">***</text>
<path d="M191.5,224.5 V327.7 H325.2" stroke="#222" stroke-width="1.1" fill="none"/>
<line x1="188.0" y1="327.7" x2="191.5" y2="327.7" stroke="#222" stroke-width="1.0"/>
<text x="185.7" y="330.7" font-size="8.3" fill="#2e2e2e" stroke="#2e2e2e" stroke-width="0.15" text-anchor="end">0</text>
<line x1="188.0" y1="302.2" x2="191.5" y2="302.2" stroke="#222" stroke-width="1.0"/>
<text x="185.7" y="305.2" font-size="8.3" fill="#2e2e2e" stroke="#2e2e2e" stroke-width="0.15" text-anchor="end">10</text>
<line x1="188.0" y1="276.7" x2="191.5" y2="276.7" stroke="#222" stroke-width="1.0"/>
<text x="185.7" y="279.7" font-size="8.3" fill="#2e2e2e" stroke="#2e2e2e" stroke-width="0.15" text-anchor="end">20</text>
<line x1="188.0" y1="251.2" x2="191.5" y2="251.2" stroke="#222" stroke-width="1.0"/>
<text x="185.7" y="254.2" font-size="8.3" fill="#2e2e2e" stroke="#2e2e2e" stroke-width="0.15" text-anchor="end">30</text>
<line x1="188.0" y1="225.7" x2="191.5" y2="225.7" stroke="#222" stroke-width="1.0"/>
<text x="185.7" y="228.7" font-size="8.3" fill="#2e2e2e" stroke="#2e2e2e" stroke-width="0.15" text-anchor="end">40</text>
<line x1="191.5" y1="327.7" x2="191.5" y2="330.7" stroke="#222" stroke-width="1.0"/>
<line x1="256.3" y1="327.7" x2="256.3" y2="330.7" stroke="#222" stroke-width="1.0"/>
<line x1="321.6" y1="327.7" x2="321.6" y2="330.7" stroke="#222" stroke-width="1.0"/>
<text x="223.85" y="341.3" font-size="8.4" fill="#2f4f85" stroke="#2f4f85" stroke-width="0.15" text-anchor="middle" textLength="19.6" lengthAdjust="spacingAndGlyphs">shNT</text>
<text x="289.15" y="341.3" font-size="8.4" fill="#c0304f" stroke="#c0304f" stroke-width="0.15" text-anchor="middle" textLength="18.6" lengthAdjust="spacingAndGlyphs">shRX</text>
<text transform="translate(168.8,276.8) rotate(-90)" font-size="8.0" fill="#2e2e2e" text-anchor="middle" textLength="47.6" lengthAdjust="spacingAndGlyphs">P-selectin (%)</text>
<rect x="250.6" y="211.60" width="6.2" height="6.0" fill="#d4d7e8"/>
<rect x="259.4" y="211.60" width="6.2" height="6.0" fill="#f5d2c9"/>
<text x="269.6" y="217.30" font-size="7.8" fill="#2e2e2e" stroke="#2e2e2e" stroke-width="0.15" textLength="49.6" lengthAdjust="spacingAndGlyphs">TRAP 0 µg/mL</text>
<rect x="250.6" y="220.80" width="6.2" height="6.0" fill="#a8aed0"/>
<rect x="259.4" y="220.80" width="6.2" height="6.0" fill="#eba99f"/>
<text x="269.6" y="226.50" font-size="7.8" fill="#2e2e2e" stroke="#2e2e2e" stroke-width="0.15" textLength="54.4" lengthAdjust="spacingAndGlyphs">TRAP 25 µg/mL</text>
<rect x="250.6" y="230.00" width="6.2" height="6.0" fill="#7b86b8"/>
<rect x="259.4" y="230.00" width="6.2" height="6.0" fill="#e07d74"/>
<text x="269.6" y="235.70" font-size="7.8" fill="#2e2e2e" stroke="#2e2e2e" stroke-width="0.15" textLength="54.4" lengthAdjust="spacingAndGlyphs">TRAP 50 µg/mL</text>
<rect x="250.6" y="239.20" width="6.2" height="6.0" fill="#4b5f9c"/>
<rect x="259.4" y="239.20" width="6.2" height="6.0" fill="#d44c4d"/>
<text x="269.6" y="244.90" font-size="7.8" fill="#2e2e2e" stroke="#2e2e2e" stroke-width="0.15" textLength="59.6" lengthAdjust="spacingAndGlyphs">TRAP 100 µg/mL</text>
<rect x="250.6" y="248.40" width="6.2" height="6.0" fill="#173f7a"/>
<rect x="259.4" y="248.40" width="6.2" height="6.0" fill="#c8102e"/>
<text x="269.6" y="254.10" font-size="7.8" fill="#2e2e2e" stroke="#2e2e2e" stroke-width="0.15" textLength="59.3" lengthAdjust="spacingAndGlyphs">TRAP 200 µg/mL</text>
<rect x="384.00" y="288.69" width="8.7" height="39.01" fill="#d4d7e8"/>
<path d="M388.35,290.69 V285.12 M385.35,285.12 H391.35" stroke="#333" stroke-width="0.9" fill="none"/>
<rect x="394.00" y="269.31" width="8.7" height="58.39" fill="#a8aed0"/>
<path d="M398.35,271.31 V264.71 M395.35,264.71 H401.35" stroke="#333" stroke-width="0.9" fill="none"/>
<rect x="404.00" y="263.69" width="8.7" height="64.00" fill="#7b86b8"/>
<path d="M408.35,265.69 V259.11 M405.35,259.11 H411.35" stroke="#333" stroke-width="0.9" fill="none"/>
<rect x="414.00" y="255.79" width="8.7" height="71.91" fill="#4b5f9c"/>
<path d="M418.35,257.79 V253.75 M415.35,253.75 H421.35" stroke="#333" stroke-width="0.9" fill="none"/>
<rect x="424.00" y="253.75" width="8.7" height="73.95" fill="#173f7a"/>
<path d="M428.35,255.75 V251.20 M425.35,251.20 H431.35" stroke="#333" stroke-width="0.9" fill="none"/>
<rect x="450.00" y="305.26" width="8.7" height="22.44" fill="#f5d2c9"/>
<path d="M454.35,307.26 V299.90 M451.35,299.90 H457.35" stroke="#333" stroke-width="0.9" fill="none"/>
<text x="454.35" y="300.70" font-size="8.2" fill="#333" text-anchor="middle">*</text>
<rect x="460.00" y="309.59" width="8.7" height="18.11" fill="#eba99f"/>
<path d="M464.35,311.59 V307.43 M461.35,307.43 H467.35" stroke="#333" stroke-width="0.9" fill="none"/>
<text x="464.35" y="308.50" font-size="8.2" fill="#333" text-anchor="middle">**</text>
<rect x="470.00" y="303.22" width="8.7" height="24.48" fill="#e07d74"/>
<path d="M474.35,305.22 V296.84 M471.35,296.84 H477.35" stroke="#333" stroke-width="0.9" fill="none"/>
<text x="474.35" y="295.10" font-size="8.2" fill="#333" text-anchor="middle">***</text>
<rect x="480.00" y="305.26" width="8.7" height="22.44" fill="#d44c4d"/>
<path d="M484.35,307.26 V298.88 M481.35,298.88 H487.35" stroke="#333" stroke-width="0.9" fill="none"/>
<text x="484.35" y="299.40" font-size="8.2" fill="#333" text-anchor="middle">****</text>
<rect x="490.00" y="303.73" width="8.7" height="23.97" fill="#c8102e"/>
<path d="M494.35,305.73 V294.30 M491.35,294.30 H497.35" stroke="#333" stroke-width="0.9" fill="none"/>
<text x="494.35" y="294.70" font-size="8.2" fill="#333" text-anchor="middle">***</text>
<path d="M376.0,224.5 V327.7 H509.8" stroke="#222" stroke-width="1.1" fill="none"/>
<line x1="372.5" y1="327.7" x2="376.0" y2="327.7" stroke="#222" stroke-width="1.0"/>
<text x="370.2" y="330.7" font-size="8.3" fill="#2e2e2e" stroke="#2e2e2e" stroke-width="0.15" text-anchor="end">0</text>
<line x1="372.5" y1="302.2" x2="376.0" y2="302.2" stroke="#222" stroke-width="1.0"/>
<text x="370.2" y="305.2" font-size="8.3" fill="#2e2e2e" stroke="#2e2e2e" stroke-width="0.15" text-anchor="end">10</text>
<line x1="372.5" y1="276.7" x2="376.0" y2="276.7" stroke="#222" stroke-width="1.0"/>
<text x="370.2" y="279.7" font-size="8.3" fill="#2e2e2e" stroke="#2e2e2e" stroke-width="0.15" text-anchor="end">20</text>
<line x1="372.5" y1="251.2" x2="376.0" y2="251.2" stroke="#222" stroke-width="1.0"/>
<text x="370.2" y="254.2" font-size="8.3" fill="#2e2e2e" stroke="#2e2e2e" stroke-width="0.15" text-anchor="end">30</text>
<line x1="372.5" y1="225.7" x2="376.0" y2="225.7" stroke="#222" stroke-width="1.0"/>
<text x="370.2" y="228.7" font-size="8.3" fill="#2e2e2e" stroke="#2e2e2e" stroke-width="0.15" text-anchor="end">40</text>
<line x1="376.0" y1="327.7" x2="376.0" y2="330.7" stroke="#222" stroke-width="1.0"/>
<line x1="441.0" y1="327.7" x2="441.0" y2="330.7" stroke="#222" stroke-width="1.0"/>
<line x1="506.6" y1="327.7" x2="506.6" y2="330.7" stroke="#222" stroke-width="1.0"/>
<text x="408.35" y="341.3" font-size="8.4" fill="#2f4f85" stroke="#2f4f85" stroke-width="0.15" text-anchor="middle" textLength="19.6" lengthAdjust="spacingAndGlyphs">shNT</text>
<text x="474.35" y="341.3" font-size="8.4" fill="#c0304f" stroke="#c0304f" stroke-width="0.15" text-anchor="middle" textLength="18.6" lengthAdjust="spacingAndGlyphs">shRX</text>
<text transform="translate(353.8,276.8) rotate(-90)" font-size="8.0" fill="#2e2e2e" text-anchor="middle" textLength="47.6" lengthAdjust="spacingAndGlyphs">P-selectin (%)</text>
<rect x="436.0" y="211.60" width="6.2" height="6.0" fill="#d4d7e8"/>
<rect x="444.8" y="211.60" width="6.2" height="6.0" fill="#f5d2c9"/>
<text x="453.9" y="217.30" font-size="7.8" fill="#2e2e2e" stroke="#2e2e2e" stroke-width="0.15" textLength="47.0" lengthAdjust="spacingAndGlyphs">CVX 0 µg/mL</text>
<rect x="436.0" y="220.80" width="6.2" height="6.0" fill="#a8aed0"/>
<rect x="444.8" y="220.80" width="6.2" height="6.0" fill="#eba99f"/>
<text x="453.9" y="226.50" font-size="7.8" fill="#2e2e2e" stroke="#2e2e2e" stroke-width="0.15" textLength="57.8" lengthAdjust="spacingAndGlyphs">CVX 12.5 µg/mL</text>
<rect x="436.0" y="230.00" width="6.2" height="6.0" fill="#7b86b8"/>
<rect x="444.8" y="230.00" width="6.2" height="6.0" fill="#e07d74"/>
<text x="453.9" y="235.70" font-size="7.8" fill="#2e2e2e" stroke="#2e2e2e" stroke-width="0.15" textLength="50.5" lengthAdjust="spacingAndGlyphs">CVX 25 µg/mL</text>
<rect x="436.0" y="239.20" width="6.2" height="6.0" fill="#4b5f9c"/>
<rect x="444.8" y="239.20" width="6.2" height="6.0" fill="#d44c4d"/>
<text x="453.9" y="244.90" font-size="7.8" fill="#2e2e2e" stroke="#2e2e2e" stroke-width="0.15" textLength="50.5" lengthAdjust="spacingAndGlyphs">CVX 50 µg/mL</text>
<rect x="436.0" y="248.40" width="6.2" height="6.0" fill="#173f7a"/>
<rect x="444.8" y="248.40" width="6.2" height="6.0" fill="#c8102e"/>
<text x="453.9" y="254.10" font-size="7.8" fill="#2e2e2e" stroke="#2e2e2e" stroke-width="0.15" textLength="56.0" lengthAdjust="spacingAndGlyphs">CVX 100 µg/mL</text>
</svg>
</body></html>
